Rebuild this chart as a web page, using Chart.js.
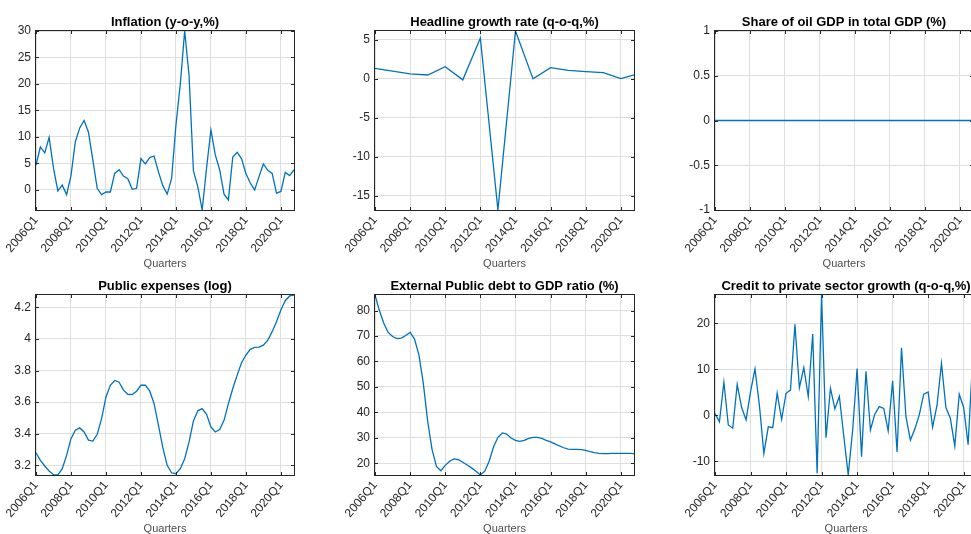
<!DOCTYPE html>
<html>
<head>
<meta charset="utf-8">
<title>Macro indicators</title>
<script src="https://cdn.jsdelivr.net/npm/chart.js@4.4.1/dist/chart.umd.min.js"></script>
<style>
  html, body { margin: 0; padding: 0; background: #fff; }
  body { width: 971px; height: 534px; overflow: hidden; position: relative; }
  canvas.panel { position: absolute; }
</style>
</head>
<body>
<script>
// quarterly sample, 2006Q1 .. 2020Q4
const years = [2006, 2007, 2008, 2009, 2010, 2011, 2012, 2013, 2014, 2015, 2016, 2017, 2018, 2019, 2020];
const quarters = years.flatMap(y => ["Q1", "Q2", "Q3", "Q4"].map(q => y + q));

const inflation = [
  4.7, 8.1, 7.0, 9.9, 4.1, -0.2, 0.9, -0.9, 2.7, 9.1,
  11.7, 13.1, 10.9, 5.6, 0.3, -0.9, -0.4, -0.4, 3.1, 3.8,
  2.6, 2.1, 0.1, 0.3, 5.9, 4.9, 6.1, 6.4, 3.4, 0.8,
  -0.8, 2.1, 12.2, 20.0, 30.0, 21.6, 3.6, 0.6, -3.8, 4.1,
  11.3, 6.6, 3.8, -0.8, -1.9, 6.2, 7.1, 5.9, 3.1, 1.3,
  0.0, 2.5, 4.9, 3.7, 3.1, -0.6, -0.3, 3.3, 2.7, 3.8
];

// headline growth is only published once a year (Q1) plus the last quarter
const headlineGrowth = [
  1.36, null, null, null, null, null, null, null, 0.64, null,
  null, null, 0.5, null, null, null, 1.57, null, null, null,
  -0.13, null, null, null, 5.25, null, null, null, -16.85, null,
  null, null, 6.15, null, null, null, 0.0, null, null, null,
  1.45, null, null, null, 1.1, null, null, null, 0.93, null,
  null, null, 0.8, null, null, null, 0.04, null, null, 0.5
];

const oilShare = [
  0, 0, 0, 0, 0, 0, 0, 0, 0, 0,
  0, 0, 0, 0, 0, 0, 0, 0, 0, 0,
  0, 0, 0, 0, 0, 0, 0, 0, 0, 0,
  0, 0, 0, 0, 0, 0, 0, 0, 0, 0,
  0, 0, 0, 0, 0, 0, 0, 0, 0, 0,
  0, 0, 0, 0, 0, 0, 0, 0, 0, 0
];

const publicExpenses = [
  3.280, 3.232, 3.196, 3.164, 3.141, 3.139, 3.179, 3.263, 3.369, 3.422,
  3.437, 3.411, 3.360, 3.354, 3.397, 3.496, 3.633, 3.707, 3.737, 3.726,
  3.676, 3.650, 3.648, 3.669, 3.707, 3.708, 3.671, 3.591, 3.454, 3.312,
  3.200, 3.153, 3.147, 3.179, 3.242, 3.348, 3.481, 3.545, 3.559, 3.523,
  3.443, 3.411, 3.426, 3.485, 3.591, 3.686, 3.771, 3.849, 3.898, 3.934,
  3.946, 3.948, 3.961, 3.992, 4.046, 4.109, 4.183, 4.242, 4.272, 4.278
];

const externalDebt = [
  86.1, 80.0, 75.0, 71.4, 69.8, 69.0, 69.2, 70.2, 71.4, 68.8,
  62.6, 51.5, 36.5, 25.4, 18.8, 17.1, 19.2, 20.8, 21.7, 21.4,
  20.4, 19.3, 18.2, 16.9, 15.4, 16.9, 20.8, 26.4, 30.2, 31.9,
  31.5, 29.9, 29.0, 28.6, 29.0, 29.8, 30.2, 30.2, 29.8, 29.0,
  28.4, 27.6, 26.8, 26.1, 25.6, 25.5, 25.5, 25.4, 25.1, 24.6,
  24.2, 23.9, 23.8, 23.8, 23.9, 23.9, 23.9, 23.9, 23.9, 23.8
];

const creditGrowth = [
  0.4, -1.4, 7.2, -2.1, -2.8, 6.7, 1.7, -1.0, 5.1, 10.1,
  2.2, -8.3, -2.5, -2.7, 4.8, -0.9, 4.8, 5.5, 19.8, 6.0,
  10.4, 4.1, 17.7, -12.6, 26.2, -4.9, 5.9, 1.4, 4.1, -4.5,
  -13.0, -3.2, 10.2, -9.0, 9.6, -3.2, 0.3, 1.9, 1.5, -3.4,
  7.5, -8.0, 14.7, -0.3, -5.4, -3.0, 0.1, 4.6, 5.1, -2.6,
  2.2, 11.3, 1.7, -0.7, -6.7, 4.6, 1.7, -6.4, 12.0, 3.0
];

const xLabelEvery = 8; // one tick every two years

// subplot grid: [left, top, width, height] of each axes box in page pixels
const panels = [
  { title: "Inflation (y-o-y,%)", values: inflation, step: 5, box: [36, 31, 258, 179] },
  { title: "Headline growth rate (q-o-q,%)", values: headlineGrowth, step: 5, box: [375, 31, 259, 179] },
  { title: "Share of oil GDP in total GDP (%)", values: oilShare, step: 0.5, box: [715, 31, 258, 179], lim: [-1, 1] },
  { title: "Public expenses (log)", values: publicExpenses, step: 0.2, box: [36, 295, 258, 180] },
  { title: "External Public debt to GDP ratio (%)", values: externalDebt, step: 10, box: [375, 295, 259, 180] },
  { title: "Credit to private sector growth (q-o-q,%)", values: creditGrowth, step: 10, box: [715, 295, 262, 180] }
];

const AXIS_W = 44;   // room for y tick labels
const TITLE_H = 26;  // room for the title above the box
const XAXIS_H = 63;  // rotated tick labels + "Quarters"
const PAD_R = 6;

const ink = "#262626";
const gridColor = "#dedede";
const lineColor = "#0072bd";

Chart.defaults.font.family = "'Liberation Sans', Arial, Helvetica, sans-serif";
Chart.defaults.color = ink;

// MATLAB-like box: full frame with small inward ticks on all four sides
const axesBox = {
  id: "axesBox",
  afterDatasetsDraw(chart) {
    const { ctx, chartArea: a, scales } = chart;
    const len = 3;
    ctx.save();
    ctx.strokeStyle = ink;
    ctx.lineWidth = 1;
    ctx.beginPath();
    scales.x.ticks.forEach((t, i) => {
      const px = Math.round(scales.x.getPixelForTick(i)) + 0.5;
      ctx.moveTo(px, a.top);
      ctx.lineTo(px, a.top + len);
      ctx.moveTo(px, a.bottom);
      ctx.lineTo(px, a.bottom - len);
    });
    scales.y.ticks.forEach((t, i) => {
      const py = Math.round(scales.y.getPixelForTick(i)) + 0.5;
      ctx.moveTo(a.left, py);
      ctx.lineTo(a.left + len, py);
      ctx.moveTo(a.right, py);
      ctx.lineTo(a.right - len, py);
    });
    ctx.stroke();
    ctx.strokeRect(a.left - 0.5, a.top - 0.5, a.width + 1, a.height + 1);
    ctx.restore();
  }
};

panels.forEach(p => {
  const [left, top, w, h] = p.box;
  const canvas = document.createElement("canvas");
  canvas.className = "panel";
  canvas.width = AXIS_W + w + PAD_R;
  canvas.height = TITLE_H + h + XAXIS_H;
  canvas.style.left = (left - AXIS_W) + "px";
  canvas.style.top = (top - TITLE_H) + "px";
  document.body.appendChild(canvas);

  // tight y limits, like "axis tight"
  const finite = p.values.filter(v => v !== null);
  const lim = p.lim || [Math.min(...finite), Math.max(...finite)];

  new Chart(canvas.getContext("2d"), {
    type: "line",
    data: {
      labels: quarters,
      datasets: [{
        data: p.values,
        borderColor: lineColor,
        borderWidth: 1.3,
        pointRadius: 0,
        tension: 0,
        spanGaps: true,
        fill: false
      }]
    },
    options: {
      responsive: false,
      animation: false,
      events: [],
      layout: { padding: { left: 0, right: PAD_R, top: 0, bottom: 0 } },
      plugins: {
        legend: { display: false },
        tooltip: { enabled: false },
        title: {
          display: true,
          fullSize: false, // centre over the axes box, not the canvas
          text: p.title,
          color: "#000",
          font: { size: 13, weight: "bold", lineHeight: 1.2 },
          padding: { top: 9.4, bottom: 1 }
        }
      },
      scales: {
        x: {
          type: "category",
          offset: false,
          afterBuildTicks: s => { s.ticks = s.ticks.filter((t, i) => i % xLabelEvery === 0); },
          afterFit: s => { s.height = XAXIS_H; },
          ticks: {
            autoSkip: false,
            minRotation: 50,
            maxRotation: 50,
            color: ink,
            padding: 3.5,
            font: { size: 12 }
          },
          grid: { color: gridColor, drawTicks: false },
          border: { display: false },
          title: {
            display: true,
            text: "Quarters",
            color: "#4d4d4d",
            font: { size: 11, lineHeight: 1.2 },
            padding: { top: 0, bottom: 2 }
          }
        },
        y: {
          type: "linear",
          min: lim[0],
          max: lim[1],
          afterFit: s => { s.width = AXIS_W; },
          ticks: {
            stepSize: p.step,
            includeBounds: false,
            color: ink,
            padding: 5,
            font: { size: 12 },
            callback: v => String(Math.round(v * 100) / 100)
          },
          grid: { color: gridColor, drawTicks: false },
          border: { display: false }
        }
      }
    },
    plugins: [axesBox]
  });
});
</script>
</body>
</html>
